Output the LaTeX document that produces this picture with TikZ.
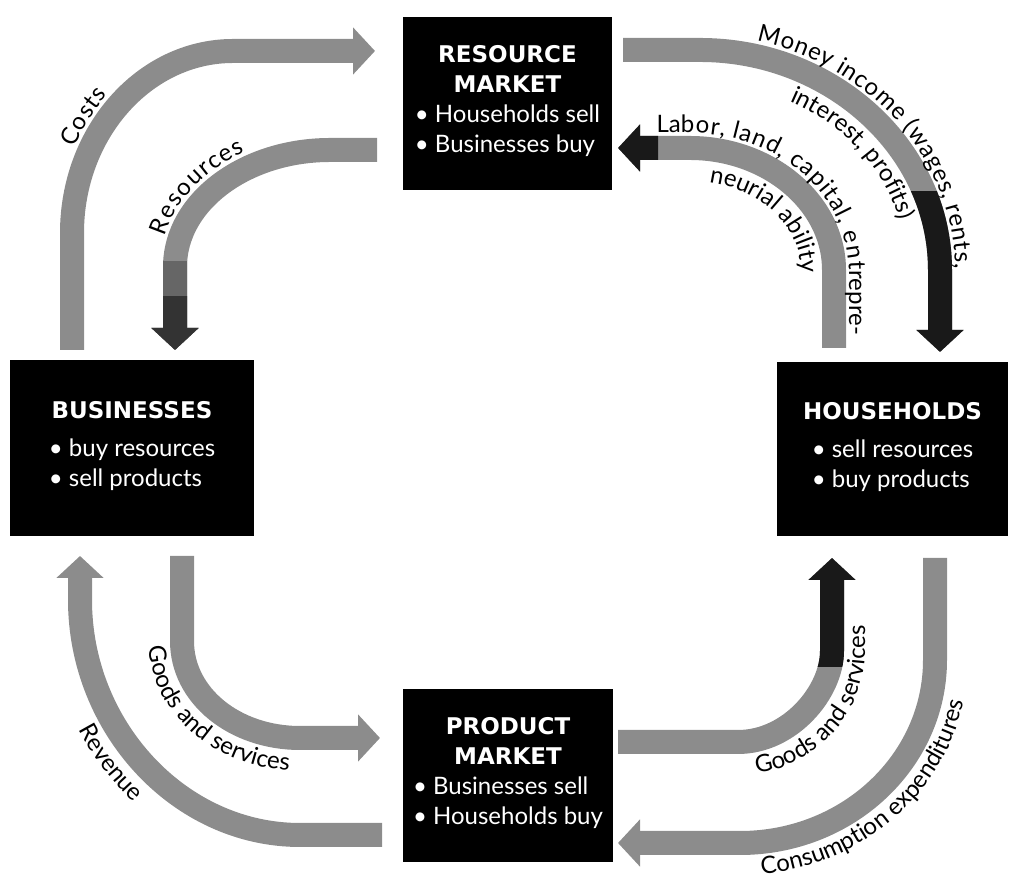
\documentclass[tikz,border=0pt]{standalone}
\usepackage{fontspec}
\setmainfont{Lato}
\newfontfamily\headfont{DejaVu Sans}
\usetikzlibrary{arrows.meta, decorations.text, positioning}

\tikzstyle{mkt} = [fill=black, text=white, inner sep=0pt, align=center, font=\fontsize{24}{30}\selectfont]
\tikzstyle{band} = [line width=24pt, draw=black!45]
\tikzstyle{bandhead} = [-{Triangle[width=46pt,length=22pt]}]
\tikzstyle{darkband} = [line width=24pt, draw=black!90]
\newcommand{\lbl}{\fontsize{24}{28}\selectfont}
\newcommand{\ttl}[1]{{\headfont\bfseries\fontsize{23}{30}\selectfont #1}}

\begin{document}
\begin{tikzpicture}[x=1pt, y=1pt]
	\useasboundingbox (0,0) rectangle (1010,882);

	% the four markets and sectors
	\node[mkt, minimum width=209pt, minimum height=173pt] (res) at (507.5,778.5) {\ttl{RESOURCE}\\ \ttl{MARKET}\\
		\begin{tabular}[t]{@{}l@{}}\textbullet\ Households sell\\ \textbullet\ Businesses buy\end{tabular}};
	\node[mkt, minimum width=244pt, minimum height=176pt] (bus) at (132,434) {\ttl{BUSINESSES}\\[8pt]
		\begin{tabular}[t]{@{}l@{}}\textbullet\ buy resources\\ \textbullet\ sell products\end{tabular}};
	\node[mkt, minimum width=231pt, minimum height=174pt] (hh) at (892.5,433) {\ttl{HOUSEHOLDS}\\[8pt]
		\begin{tabular}[t]{@{}l@{}}\textbullet\ sell resources\\ \textbullet\ buy products\end{tabular}};
	\node[mkt, minimum width=210pt, minimum height=173pt] (prod) at (508,106.5) {\ttl{PRODUCT}\\ \ttl{MARKET}\\
		\begin{tabular}[t]{@{}l@{}}\textbullet\ Businesses sell\\ \textbullet\ Households buy\end{tabular}};

	% arrow ends
	\coordinate (cT) at (72,532);   \coordinate (cH) at (375,831);
	\coordinate (rT) at (377,732);  \coordinate (rH) at (175,532);
	\coordinate (mT) at (623,832);  \coordinate (mH) at (940,530);
	\coordinate (lT) at (834,534);  \coordinate (lH) at (618,734);
	\coordinate (vT) at (382,47);   \coordinate (vH) at (80,326);
	\coordinate (gT) at (182,326);  \coordinate (gH) at (380,144);
	\coordinate (hT) at (618,140);  \coordinate (hH) at (832,324);
	\coordinate (xT) at (935,324);  \coordinate (xH) at (618,39);

	% upper loop
	\draw[band, bandhead] (cT) -- (72,649) .. controls (72,749) and (144,831) .. (233,831) -- (cH);
	\draw[band, bandhead] (rT) -- (330,732) .. controls (245,732) and (175,680) .. (175,615) -- (rH);
	\draw[band, bandhead] (mT) -- (700,832) .. controls (832,832) and (940,733) .. (940,612) -- (mH);
	\draw[band, bandhead] (lT) -- (834,612) .. controls (834,679) and (769,734) .. (690,734) -- (lH);
	% lower loop
	\draw[band, bandhead] (vT) -- (300,47) .. controls (179,47) and (80,155) .. (80,282) -- (vH);
	\draw[band, bandhead] (gT) -- (182,241) .. controls (182,186) and (235,144) .. (300,144) -- (gH);
	\draw[band, bandhead] (hT) -- (738,140) .. controls (790,140) and (832,190) .. (832,231) -- (hH);
	\draw[band, bandhead] (xT) -- (935,222) .. controls (935,121) and (848,39) .. (740,39) -- (xH);

	% darker ends
	\begin{scope}
		\clip (880,500) rectangle (1000,690);
		\draw[darkband, bandhead] (mT) -- (700,832) .. controls (832,832) and (940,733) .. (940,612) -- (mH);
	\end{scope}
	\begin{scope}
		\clip (790,215) rectangle (880,340);
		\draw[darkband, bandhead] (hT) -- (738,140) .. controls (790,140) and (832,190) .. (832,231) -- (hH);
	\end{scope}
	\begin{scope}
		\clip (600,700) rectangle (658,770);
		\draw[darkband, bandhead] (lT) -- (834,612) .. controls (834,679) and (769,734) .. (690,734) -- (lH);
	\end{scope}
	\begin{scope}
		\clip (140,520) rectangle (210,620);
		\draw[darkband, bandhead, draw=black!60] (rT) -- (330,732) .. controls (245,732) and (175,680) .. (175,615) -- (rH);
	\end{scope}
	\begin{scope}
		\clip (140,520) rectangle (210,585);
		\draw[darkband, bandhead, draw=black!80] (rT) -- (330,732) .. controls (245,732) and (175,680) .. (175,615) -- (rH);
	\end{scope}

	% labels along the flows
	\path[decorate, decoration={text along path, text align=center, raise=15pt, text={|\lbl|Costs}}]
		(72,600) -- (72,649) .. controls (72,749) and (144,831) .. (233,831);
	\path[decorate, decoration={text along path, text align=center, raise=15pt, text={|\lbl|Resources}}]
		(175,560) -- (175,615) .. controls (175,680) and (245,732) .. (330,732);
	\path[decorate, decoration={text along path, text align=center, raise=15pt, text={|\lbl|Money income (wages, rents,}}]
		(700,832) .. controls (832,832) and (940,733) .. (940,612) -- (940,560);
	\path[decorate, decoration={text along path, text align=center, text={|\lbl|interest, profits)}}]
		(700,799) .. controls (815,799) and (907,716) .. (907,612) -- (907,570);
	\path[decorate, decoration={text along path, text align=center, raise=15pt, text={|\lbl|Labor, land, capital, entrepre-}}]
		(630,734) -- (690,734) .. controls (769,734) and (834,679) .. (834,612) -- (834,520);
	\path[decorate, decoration={text along path, text align=center, text={|\lbl|neurial ability}}]
		(640,701) -- (690,701) .. controls (751,701) and (801,661) .. (801,612) -- (801,540);
	\path[decorate, decoration={text along path, text align=center, text={|\lbl|Revenue}}]
		(47,330) -- (47,282) .. controls (47,134) and (160,14) .. (300,14);
	\path[decorate, decoration={text along path, text align=center, text={|\lbl|Goods and services}}]
		(149,326) -- (149,241) .. controls (149,169) and (217,111) .. (300,111) -- (380,111);
	\path[decorate, decoration={text along path, text align=center, text={|\lbl|Goods and services}}]
		(690,107) -- (738,107) .. controls (808,107) and (865,163) .. (865,231) -- (865,324);
	\path[decorate, decoration={text along path, text align=center, text={|\lbl|Consumption expenditures}}]
		(618,7) -- (740,7) .. controls (866,7) and (968,103) .. (968,222) -- (968,324);
\end{tikzpicture}
\end{document}
